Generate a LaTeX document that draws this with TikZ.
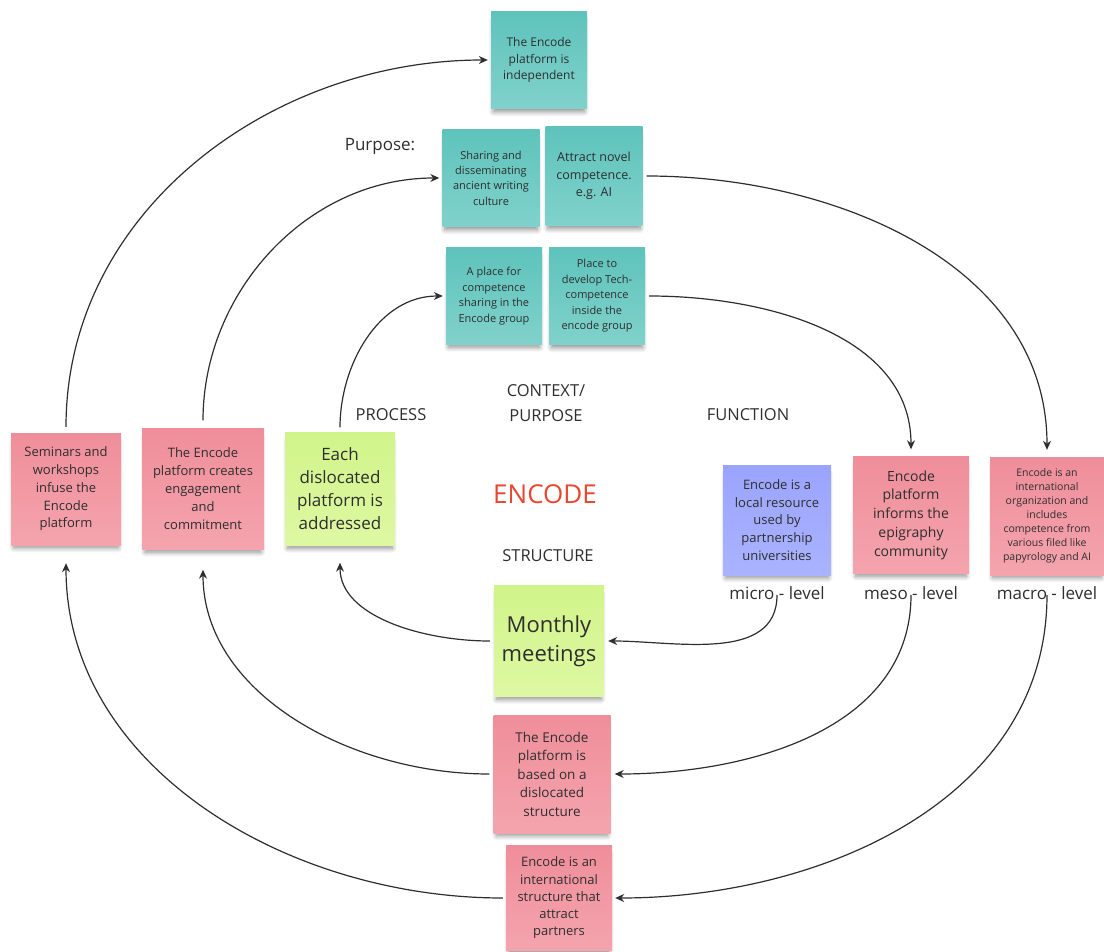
\documentclass[tikz,border=0pt]{standalone}
\usepackage{fontspec}
\setmainfont{Open Sans}
\usepackage{tikz}
\usetikzlibrary{arrows.meta,shadows.blur}

\definecolor{tealA}{HTML}{5EC3BC}
\definecolor{tealB}{HTML}{80D2CB}
\definecolor{pinkA}{HTML}{EF8E9A}
\definecolor{pinkB}{HTML}{F4A4AE}
\definecolor{limeA}{HTML}{D1F48A}
\definecolor{limeB}{HTML}{DEF8A3}
\definecolor{lilacA}{HTML}{9AA4FE}
\definecolor{lilacB}{HTML}{AAB3FF}
\definecolor{ink}{HTML}{2E2E2E}
\definecolor{encred}{HTML}{E8462E}

\newcommand{\fs}[2]{\fontsize{#1}{#2}\selectfont}

\begin{document}
\begin{tikzpicture}[x=1pt,y=-1pt,
  note/.style={align=center,text=ink,inner sep=2pt,
    blur shadow={shadow xshift=0pt,shadow yshift=-6pt,shadow scale=0.95,
      shadow blur radius=5pt,shadow blur steps=8,shadow opacity=45}},
  tealnote/.style={note,top color=tealA,bottom color=tealB},
  pinknote/.style={note,top color=pinkA,bottom color=pinkB},
  limenote/.style={note,top color=limeA,bottom color=limeB},
  lilacnote/.style={note,top color=lilacA,bottom color=lilacB},
  conn/.style={-{Stealth[length=9pt,width=8pt]},line width=1.2pt,draw=ink},
  lbl/.style={text=ink,inner sep=1pt,align=center}]
\useasboundingbox (0,0) rectangle (1104,952);

% purpose notes
\node[tealnote,minimum width=96pt,minimum height=97pt,font=\fs{12}{16.5}] (indep) at (539,60) {The Encode\\platform is\\independent};
\node[tealnote,minimum width=97pt,minimum height=97pt,font=\fs{11}{15.3}] (share) at (491,178) {Sharing and\\disseminating\\ancient writing\\culture};
\node[tealnote,minimum width=97pt,minimum height=99pt,font=\fs{12.5}{17.5}] (novel) at (594,176) {Attract novel\\competence.\\e.g. AI};
\node[tealnote,minimum width=96pt,minimum height=96pt,font=\fs{11}{15.6}] (place) at (494,296) {A place for\\competence\\sharing in the\\Encode group};
\node[tealnote,minimum width=96pt,minimum height=97pt,font=\fs{11}{15.5}] (tech) at (597,296) {Place to\\develop Tech-\\competence\\inside the\\encode group};
\node[lbl,font=\fs{17}{20}] (purp) at (380,146) {Purpose:};

% process notes
\node[pinknote,minimum width=110pt,minimum height=112pt,font=\fs{13}{17.7}] (sem) at (66,489) {Seminars and\\workshops\\infuse the\\Encode\\platform};
\node[pinknote,minimum width=122pt,minimum height=121pt,font=\fs{13}{18}] (engage) at (203,489) {The Encode\\platform creates\\engagement\\and\\commitment};
\node[limenote,minimum width=110pt,minimum height=113pt,font=\fs{17}{23}] (disloc) at (340,489) {Each\\dislocated\\platform is\\addressed};

% headings
\node[lbl,font=\fs{16.5}{25}] (process) at (391,415) {PROCESS};
\node[lbl,font=\fs{16.5}{25}] (context) at (546,403) {CONTEXT/\\PURPOSE};
\node[lbl,font=\fs{16.5}{25}] (function) at (748,415) {FUNCTION};
\node[lbl,font=\fs{16.5}{25}] (structure) at (548,556) {STRUCTURE};
\node[text=encred,font=\fs{26}{30}] (encode) at (545,494) {ENCODE};

% function notes
\node[lilacnote,minimum width=108pt,minimum height=110pt,font=\fs{13}{17.7}] (micro) at (777,520) {Encode is a\\local resource\\used by\\partnership\\universities};
\node[pinknote,minimum width=116pt,minimum height=117pt,font=\fs{14}{18.7}] (meso) at (911,515) {Encode\\platform\\informs the\\epigraphy\\community};
\node[pinknote,minimum width=114pt,minimum height=118pt,font=\fs{10.5}{14}] (macro) at (1047,516) {Encode is an\\international\\organization and\\includes\\competence from\\various filed like\\papyrology and AI};
\node[lbl,font=\fs{17}{20}] (microlbl) at (777,593) {micro - level};
\node[lbl,font=\fs{17}{20}] (mesolbl) at (911,593) {meso - level};
\node[lbl,font=\fs{17}{20}] (macrolbl) at (1047,593) {macro - level};

% structure notes
\node[limenote,minimum width=110pt,minimum height=111pt,font=\fs{22}{29}] (monthly) at (549,641) {Monthly\\meetings};
\node[pinknote,minimum width=117pt,minimum height=118pt,font=\fs{13.5}{18.5}] (based) at (552,774) {The Encode\\platform is\\based on a\\dislocated\\structure};
\node[pinknote,minimum width=106pt,minimum height=105pt,font=\fs{13}{17.3}] (partners) at (559,898) {Encode is an\\international\\structure that\\attract\\partners};

% upward arcs
\draw[conn,shorten <=6pt,shorten >=3pt] (sem.north) to[out=90,in=180] (indep.west);
\draw[conn,shorten <=8pt,shorten >=3pt] (engage.north) to[out=90,in=180] (share.west);
\draw[conn,shorten <=5pt,shorten >=3pt] (disloc.north) to[out=90,in=180] (place.west);

% downward arcs on the right
\draw[conn,shorten <=4pt,shorten >=7pt] (novel.east) to[out=0,in=90] (macro.north);
\draw[conn,shorten <=4pt,shorten >=7pt] (tech.east) to[out=0,in=90] (meso.north);

% from the levels back to the structure
\draw[conn,shorten <=2pt,shorten >=4pt] (microlbl.center) to[out=-90,in=0] (monthly.east);
\draw[conn,shorten <=2pt,shorten >=4pt] (mesolbl.center) to[out=-90,in=0] (based.east);
\draw[conn,shorten <=2pt,shorten >=3pt] (macrolbl.center) to[out=-90,in=0] (partners.east);

% from the structure back to the process
\draw[conn,shorten <=4pt,shorten >=17pt] (monthly.west) to[out=180,in=-90] (disloc.south);
\draw[conn,shorten <=4pt,shorten >=20pt] (based.west) to[out=180,in=-90] (engage.south);
\draw[conn,shorten <=3pt,shorten >=18pt] (partners.west) to[out=180,in=-90] (sem.south);
\end{tikzpicture}
\end{document}
